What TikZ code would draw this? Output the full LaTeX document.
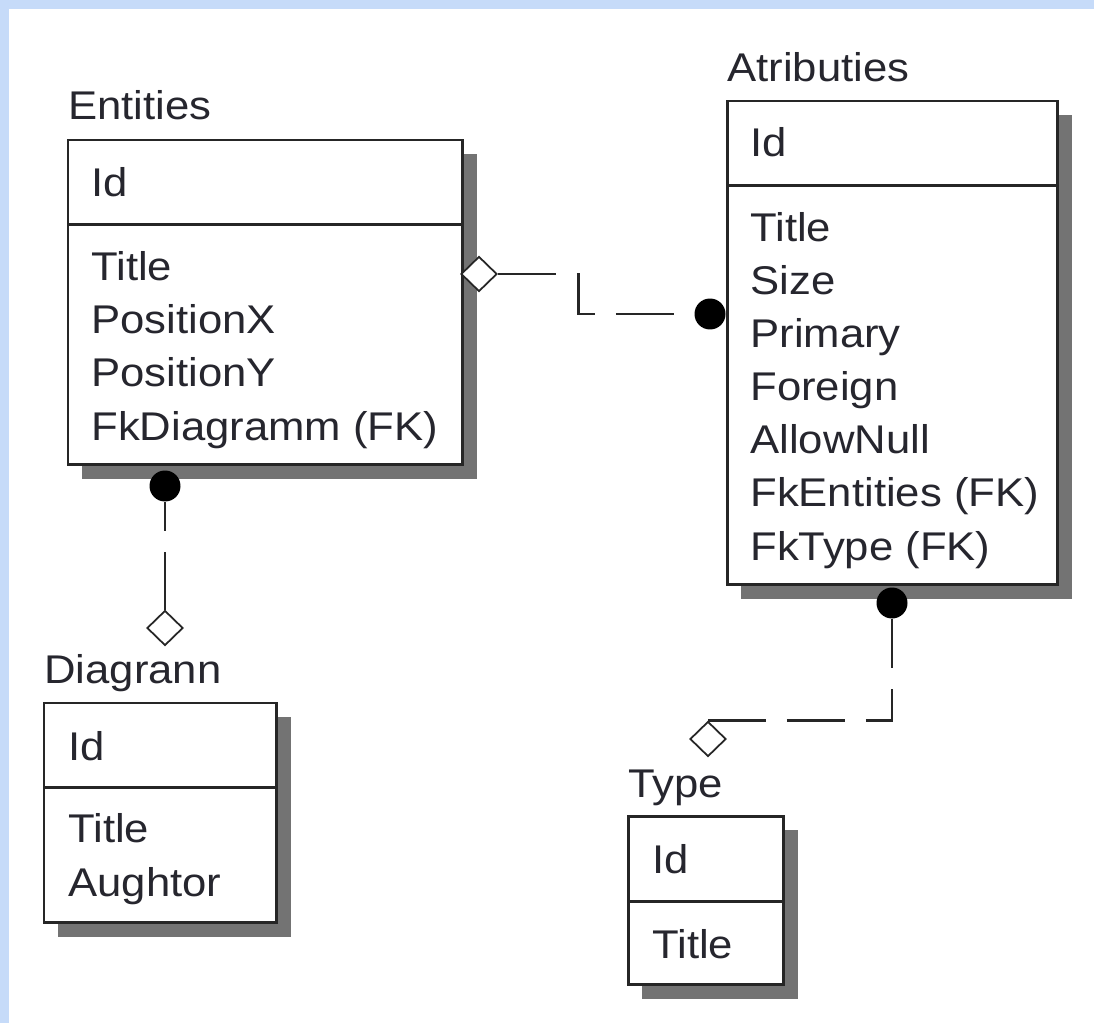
\documentclass[tikz,border=0pt]{standalone}
\usepackage{fontspec}
\setmainfont{Liberation Sans}[FakeStretch=1.09]
\usetikzlibrary{shapes.geometric}

\definecolor{frameblue}{RGB}{198,219,249}
\definecolor{inkgray}{RGB}{38,38,46}

\begin{document}
\begin{tikzpicture}[x=0.02cm, y=-0.02cm,
				every node/.style={font=\fontsize{22.8pt}{30.2pt}\selectfont, text=inkgray},
				tablebox/.style={draw=black!85, line width=1.7pt, anchor=north west, minimum height=1.7cm, inner sep=0pt, outer sep=0pt},
				shadowfill/.style={fill=black!55},
				tabletitle/.style={anchor=base west, inner sep=0pt},
				rows/.style={anchor=base west, inner sep=0pt, align=left},
				manyend/.style={diamond, draw=black!85, fill=white, line width=1pt, inner sep=0pt, minimum width=0.72cm, minimum height=0.7cm},
				oneend/.style={circle, fill=black, inner sep=0pt, minimum size=0.62cm},
				relline/.style={draw=black!85, line width=1.6pt, dash pattern=on 1.16cm off 0.42cm}]
				\useasboundingbox (0,0) rectangle (1094,1023);
				\fill[frameblue] (0,0) rectangle (1094,1023);
				\fill[white] (9,9) rectangle (1094,1023);
				% shadows
				\fill[shadowfill] (82,154) rectangle (477,479);
				\fill[shadowfill] (741,115) rectangle (1072,599);
				\fill[shadowfill] (58,717) rectangle (291,937);
				\fill[shadowfill] (642,830) rectangle (798,999);
				% Entities
				\node[tablebox, minimum width=7.9cm, fill=white] (entKey) at (68,140) {};
				\node[tablebox, minimum width=7.9cm, minimum height=4.8cm, fill=white] (entAttr) at (entKey.south west) {};
				\node[tabletitle] (entTitle) at (68,120) {Entities};
				\node[rows] (entId) at (91,197) {Id};
				% rows node sits on its last baseline
				\node[rows] (entRows) at (91,440) {Title\\PositionX\\PositionY\\FkDiagramm (FK)};
				% Atributies
				\node[tablebox, minimum width=6.62cm, fill=white] (attKey) at (727,101) {};
				\node[tablebox, minimum width=6.62cm, minimum height=7.98cm, fill=white] (attAttr) at (attKey.south west) {};
				\node[tabletitle] (attTitle) at (727,82) {Atributies};
				\node[rows] (attId) at (750,157) {Id};
				\node[rows] (attRows) at (750,560) {Title\\Size\\Primary\\Foreign\\AllowNull\\FkEntities (FK)\\FkType (FK)};
				% Diagrann
				\node[tablebox, minimum width=4.66cm, fill=white] (diaKey) at (44,703) {};
				\node[tablebox, minimum width=4.66cm, minimum height=2.7cm, fill=white] (diaAttr) at (diaKey.south west) {};
				\node[tabletitle] (diaTitle) at (44,683) {Diagrann};
				\node[rows] (diaId) at (68,760) {Id};
				\node[rows] (diaRows) at (68,896) {Title\\Aughtor};
				% Type
				\node[tablebox, minimum width=3.12cm, minimum height=1.72cm, fill=white] (typKey) at (628,816) {};
				\node[tablebox, minimum width=3.12cm, minimum height=1.66cm, fill=white] (typAttr) at (typKey.south west) {};
				\node[tabletitle] (typTitle) at (628,797) {Type};
				\node[rows] (typId) at (652,873) {Id};
				\node[rows] (typRows) at (652,958) {Title};
				% relation ends
				\node[manyend] (dmEA) at (479,274) {};
				\node[oneend] (ciEA) at (710,314) {};
				\node[oneend] (ciED) at (165,486) {};
				\node[manyend] (dmED) at (165,628) {};
				\node[oneend] (ciAT) at (892,603) {};
				\node[manyend] (dmAT) at (708,739) {};
				% relations
				\draw[relline] (dmEA.east) -- ++(81,0) |- (ciEA.west);
				\draw[relline] (dmED.north) -- (ciED.south);
				\draw[relline] (dmAT.north) -| (ciAT.south);
			\end{tikzpicture}
\end{document}
